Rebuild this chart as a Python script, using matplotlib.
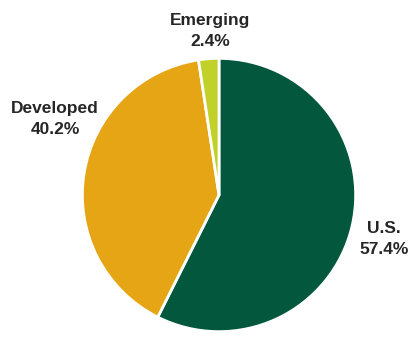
import matplotlib
matplotlib.use("Agg")
import matplotlib.pyplot as plt

categories = ["U.S.", "Developed", "Emerging"]
values = [57.4, 40.2, 2.4]
colors = ["#02573D", "#E6A515", "#C1D12A"]

W, H = 412, 349
fig = plt.figure(figsize=(W / 100, H / 100), dpi=100)
cx, cy, r = 219, 195, 138
ax = fig.add_axes([(cx - r) / W, (H - cy - r) / H, 2 * r / W, 2 * r / H])
ax.pie(values, colors=colors, startangle=90, counterclock=False, radius=1,
       wedgeprops=dict(edgecolor="white", linewidth=2))
ax.set_xlim(-1.01, 1.01)
ax.set_ylim(-1.01, 1.01)
ax.set_aspect("equal")
ax.axis("off")

label_pos = {"U.S.": (384, 239), "Developed": (55, 119), "Emerging": (210, 31)}
for c, v in zip(categories, values):
    x, y = label_pos[c]
    fig.text(x / W, 1 - y / H, f"{c}\n{v:.1f}%", ha="center", va="center",
             fontsize=12.5, fontweight="bold", color="#262626",
             family=["Liberation Sans", "DejaVu Sans"], linespacing=1.45)

fig.savefig("out.png", dpi=100)
